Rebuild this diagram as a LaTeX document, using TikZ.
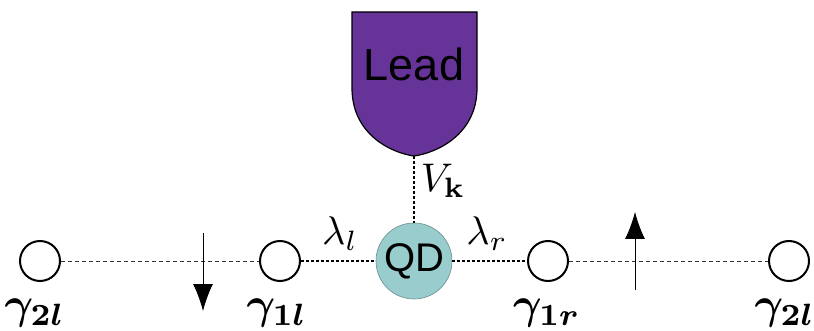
\documentclass[tikz,border=0pt]{standalone}
\usepackage{amsmath}
\usepackage{fontspec}
\setsansfont{Liberation Sans}
\usetikzlibrary{arrows.meta}
\definecolor{leadpurple}{RGB}{102,51,153}
\definecolor{qdteal}{RGB}{153,204,204}
\tikzset{
  majo/.style={circle,draw=black,line width=2pt,minimum size=40pt,inner sep=0pt},
  qdot/.style={circle,draw=qdteal!70!black,line width=0.6pt,fill=qdteal,minimum size=76pt,inner sep=0pt,font=\sffamily\fontsize{40}{40}\selectfont},
  thinlink/.style={draw=black!80,line width=0.8pt,dash pattern=on 4pt off 3pt},
  thicklink/.style={draw=black,line width=2.4pt,dash pattern=on 3pt off 2pt},
  lbl/.style={inner sep=0pt,scale=4,font=\normalsize},
  glbl/.style={inner sep=0pt,scale=4.4,font=\normalsize},
  spinarrow/.style={line width=0.8pt,-{Latex[length=27pt,width=20pt]}}
}
\begin{document}
\begin{tikzpicture}[x=1pt,y=-1pt]
\useasboundingbox (0,0) rectangle (814,331);
% Lead
\draw[fill=leadpurple,line width=1.2pt] (352,12) -- (352,88) .. controls (352,135) and (392,153) .. (414,156) .. controls (436,153) and (477,135) .. (477,88) -- (477,12) -- cycle;
\node[inner sep=0pt,font=\sffamily\fontsize{45}{45}\selectfont] (leadtxt) at (414,64) {Lead};
\coordinate (leadbot) at (414,156);
% dots
\node[qdot] (qd) at (414,261) {QD};
\node[majo] (g2l) at (40,261) {};
\node[majo] (g1l) at (280,261) {};
\node[majo] (g1r) at (548,261) {};
\node[majo] (g2r) at (789,261) {};
% links
\draw[thinlink] (g2l) -- (g1l);
\draw[thinlink] (g1r) -- (g2r);
\draw[thicklink] (g1l) -- (qd);
\draw[thicklink] (qd) -- (g1r);
\draw[thicklink] (leadbot) -- (qd);
% arrows
\coordinate (da1) at (203,233);
\coordinate (da2) at (203,311);
\coordinate (ua1) at (635,290);
\coordinate (ua2) at (635,212);
\draw[spinarrow] (da1) -- (da2);
\draw[spinarrow] (ua1) -- (ua2);
% labels
\node[glbl] (lg2l) at (35,313) {$\boldsymbol{\gamma_{2l}}$};
\node[glbl] (lg1l) at (277,313) {$\boldsymbol{\gamma_{1l}}$};
\node[glbl] (lg1r) at (547,313) {$\boldsymbol{\gamma_{1r}}$};
\node[glbl] (lg2r) at (785,313) {$\boldsymbol{\gamma_{2l}}$};
\node[lbl] (lvk) at (443,181) {$V_{\boldsymbol{\mathbf{k}}}$};
\node[lbl] (lll) at (340,234) {$\lambda_l$};
\node[lbl] (llr) at (487,234) {$\lambda_r$};
\end{tikzpicture}
\end{document}
